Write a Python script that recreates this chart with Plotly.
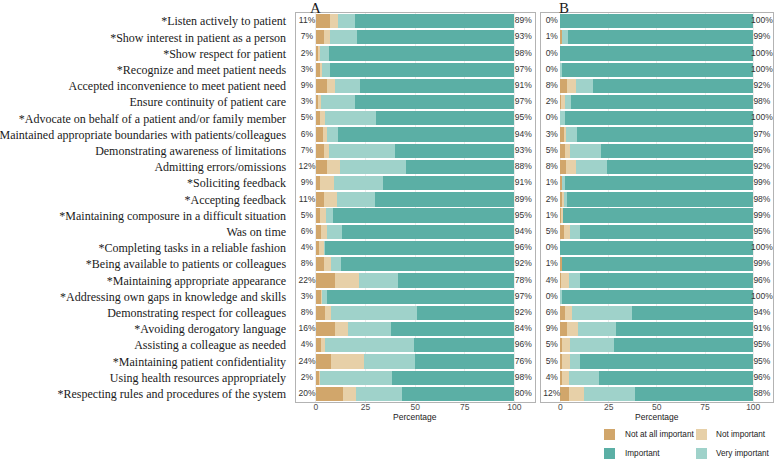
import plotly.graph_objects as go

items = [
    "*Listen actively to patient",
    "*Show interest in patient as a person",
    "*Show respect for patient",
    "*Recognize and meet patient needs",
    "Accepted inconvenience to meet patient need",
    "Ensure continuity of patient care",
    "*Advocate on behalf of a patient and/or family member",
    "Maintained appropriate boundaries with patients/colleagues",
    "Demonstrating awareness of limitations",
    "Admitting errors/omissions",
    "*Soliciting feedback",
    "*Accepting feedback",
    "*Maintaining composure in a difficult situation",
    "Was on time",
    "*Completing tasks in a reliable fashion",
    "*Being available to patients or colleagues",
    "*Maintaining appropriate appearance",
    "*Addressing own gaps in knowledge and skills",
    "Demonstrating respect for colleagues",
    "*Avoiding derogatory language",
    "Assisting a colleague as needed",
    "*Maintaining patient confidentiality",
    "Using health resources appropriately",
    "*Respecting rules and procedures of the system",
]

levels = ["Not at all important", "Not important", "Very important", "Important"]

A_not_at_all = [7, 4, 1, 2, 5.4, 1.2, 2.2, 3.4, 3.9, 5.7, 2, 4.2, 2, 2.5, 1.5, 3.9, 9.7, 2.5, 4.5, 9.4, 2.5, 7.5, 1.3, 13.4]
A_not_imp = [4, 3, 1, 1, 4.1, 1.3, 2.5, 2.3, 2.6, 6.5, 7, 6.4, 3, 3.2, 2.5, 3.8, 12.1, 0.5, 3, 7, 1.9, 16.5, 0.7, 6.7]
A_very = [8.6, 13.5, 4.5, 4, 12.8, 17.1, 25.5, 5.2, 33.2, 33, 24.8, 19, 3.4, 7.4, 0.5, 4.9, 19.7, 2.7, 43.6, 21.5, 45.2, 25.7, 36.2, 23.3]
A_imp = [80.4, 79.5, 93.5, 93, 77.7, 80.4, 69.8, 89.1, 60.3, 54.8, 66.2, 70.4, 91.6, 86.9, 95.5, 87.4, 58.5, 94.3, 48.9, 62.1, 50.4, 50.3, 61.8, 56.6]

B_not_at_all = [0, 1, 0, 0, 3.6, 0.5, 0, 1.7, 2.1, 2.9, 0.9, 1.2, 0.7, 1.9, 0, 1, 0.5, 0, 2.6, 3.5, 1, 1, 1, 4.3]
B_not_imp = [0, 0, 0, 0, 4.7, 1.8, 0, 1.1, 2.6, 4.9, 0, 0.8, 0.7, 2.8, 0, 0, 3.7, 0, 3.6, 5.5, 4.2, 4.2, 3.2, 7.7]
B_very = [0, 2.8, 0, 1, 8.7, 3.4, 2.1, 6, 16.1, 16.1, 1.7, 1.6, 0, 5.5, 0, 0, 6, 0.9, 31.1, 19.6, 22.4, 4.7, 15.6, 26.5]
B_imp = [100, 96.2, 100, 99, 83, 94.3, 97.9, 91.2, 79.2, 76.1, 97.4, 96.4, 98.6, 89.8, 100, 99, 89.8, 99.1, 62.7, 71.4, 72.4, 90.1, 80.2, 61.5]

A_low = ["11%", "7%", "2%", "3%", "9%", "3%", "5%", "6%", "7%", "12%", "9%", "11%", "5%", "6%", "4%", "8%", "22%", "3%", "8%", "16%", "4%", "24%", "2%", "20%"]
A_high = ["89%", "93%", "98%", "97%", "91%", "97%", "95%", "94%", "93%", "88%", "91%", "89%", "95%", "94%", "96%", "92%", "78%", "97%", "92%", "84%", "96%", "76%", "98%", "80%"]
B_low = ["0%", "1%", "0%", "0%", "8%", "2%", "0%", "3%", "5%", "8%", "1%", "2%", "1%", "5%", "0%", "1%", "4%", "0%", "6%", "9%", "5%", "5%", "4%", "12%"]
B_high = ["100%", "99%", "100%", "100%", "92%", "98%", "100%", "97%", "95%", "92%", "99%", "98%", "99%", "95%", "100%", "99%", "96%", "100%", "94%", "91%", "95%", "95%", "96%", "88%"]

x_ticks = [0, 25, 50, 75, 100]

colors = {
    "Not at all important": "#D1A66B",
    "Not important": "#E7D0A8",
    "Very important": "#9FD2CA",
    "Important": "#5BAFA5",
}

W, H = 774, 459
def px(x):
    return x / W
def py(y):
    return 1 - y / H

fig = go.Figure()

panels = [
    ("x", "y", [A_not_at_all, A_not_imp, A_very, A_imp], A_low, A_high),
    ("x2", "y2", [B_not_at_all, B_not_imp, B_very, B_imp], B_low, B_high),
]

for xa, ya, series, low, high in panels:
    for lvl, vals in zip(levels, series):
        fig.add_trace(go.Bar(
            x=vals, y=items, orientation="h", name=lvl,
            marker=dict(color=colors[lvl], line=dict(width=0)),
            width=0.88, xaxis=xa, yaxis=ya, showlegend=False,
        ))
    fig.add_trace(go.Scatter(
        x=[-4.5] * len(items), y=items, mode="text", text=low,
        textfont=dict(family="Liberation Sans, Arial", size=8.5, color="#333333"),
        xaxis=xa, yaxis=ya, showlegend=False, cliponaxis=False, hoverinfo="skip",
    ))
    fig.add_trace(go.Scatter(
        x=[104.5] * len(items), y=items, mode="text", text=high,
        textfont=dict(family="Liberation Sans, Arial", size=8.5, color="#333333"),
        xaxis=xa, yaxis=ya, showlegend=False, cliponaxis=False, hoverinfo="skip",
    ))

y_dom = [py(402), py(13)]
xaxis_common = dict(
    tickvals=x_ticks, ticktext=[str(t) for t in x_ticks],
    tickfont=dict(family="Liberation Sans, Arial", size=8.5, color="#4d4d4d"),
    ticks="", ticklabelstandoff=-3,
    showgrid=True, gridcolor="#ebebeb", gridwidth=1,
    zeroline=False, showline=True, mirror=True, linecolor="#b3b3b3", linewidth=1,
    automargin=False,
)

fig.update_layout(
    width=W, height=H,
    margin=dict(l=0, r=0, t=0, b=0),
    paper_bgcolor="white", plot_bgcolor="white",
    barmode="stack", bargap=0.12,
    xaxis=dict(domain=[px(295.5), px(535)], range=[-10.3, 110.4], anchor="y", **xaxis_common),
    xaxis2=dict(domain=[px(541), px(772.7)], range=[-10.1, 110.1], anchor="y2", **xaxis_common),
    yaxis=dict(
        domain=y_dom, anchor="x", type="category", categoryarray=items,
        range=[23.5, -0.5], showgrid=False, zeroline=False,
        showline=True, mirror=True, linecolor="#b3b3b3", linewidth=1,
        tickfont=dict(family="Liberation Serif, Times New Roman", size=12, color="#1a1a1a"),
        ticks="", ticklabelstandoff=6, automargin=False,
    ),
    yaxis2=dict(
        domain=y_dom, anchor="x2", type="category", categoryarray=items,
        range=[23.5, -0.5], showgrid=False, zeroline=False,
        showline=True, mirror=True, linecolor="#b3b3b3", linewidth=1,
        showticklabels=False, ticks="", automargin=False,
    ),
)

annotations = [
    dict(text="A", x=px(315.5), y=py(7.5), xref="paper", yref="paper", showarrow=False,
         font=dict(family="Liberation Serif, Times New Roman", size=15, color="#1a1a1a"),
         xanchor="center", yanchor="middle"),
    dict(text="B", x=px(563.5), y=py(7.5), xref="paper", yref="paper", showarrow=False,
         font=dict(family="Liberation Serif, Times New Roman", size=15, color="#1a1a1a"),
         xanchor="center", yanchor="middle"),
    dict(text="Percentage", x=px(415.2), y=py(417), xref="paper", yref="paper", showarrow=False,
         font=dict(family="Liberation Sans, Arial", size=8.5, color="#1a1a1a"),
         xanchor="center", yanchor="middle"),
    dict(text="Percentage", x=px(657), y=py(417), xref="paper", yref="paper", showarrow=False,
         font=dict(family="Liberation Sans, Arial", size=8.5, color="#1a1a1a"),
         xanchor="center", yanchor="middle"),
]

legend_items = [
    ("Not at all important", 604, 429, 623),
    ("Not important", 696, 429, 714),
    ("Important", 604, 448, 623),
    ("Very important", 696, 448, 714),
]
shapes = []
for lvl, sx, sy, tx in legend_items:
    shapes.append(dict(type="rect", xref="paper", yref="paper",
                       x0=px(sx), x1=px(sx + 11), y0=py(sy + 11), y1=py(sy),
                       fillcolor=colors[lvl], line=dict(width=0)))
    annotations.append(dict(text=lvl, x=px(tx), y=py(sy + 5.5), xref="paper", yref="paper",
                            showarrow=False, xanchor="left", yanchor="middle",
                            font=dict(family="Liberation Sans, Arial", size=8.2, color="#1a1a1a")))

fig.update_layout(annotations=annotations, shapes=shapes)

fig.write_html(
    "out.html",
    config={"displayModeBar": False},
    post_script="document.body.style.margin='0';document.body.style.overflow='hidden';",
)
